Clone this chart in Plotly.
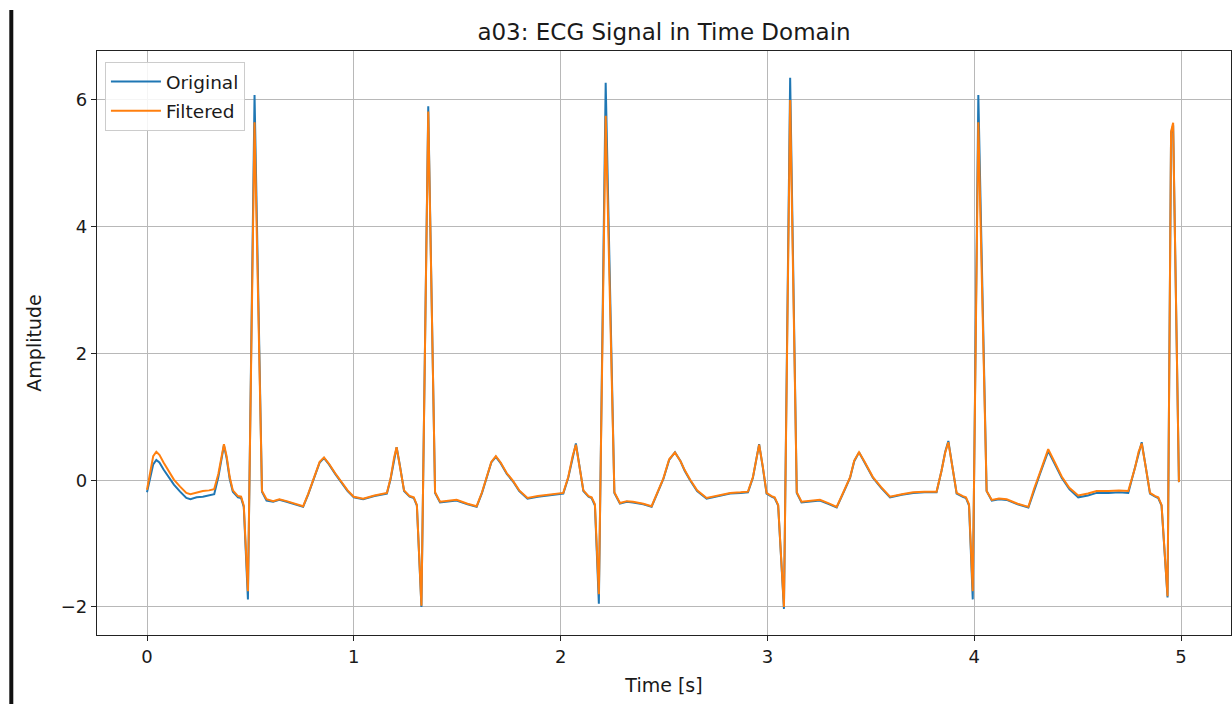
import plotly.graph_objects as go

# ---- data ----
time_s = [
    0.000, 0.015, 0.030, 0.045, 0.060, 0.080, 0.100, 0.130, 0.160, 0.190, 0.210, 0.240, 0.270, 0.300, 0.325,
    0.345, 0.360, 0.372, 0.385, 0.400, 0.415, 0.440, 0.455, 0.468, 0.488, 0.520, 0.556, 0.578, 0.610, 0.640,
    0.675, 0.720, 0.755, 0.780, 0.805, 0.835, 0.856, 0.880, 0.910, 0.940, 0.970, 1.000, 1.045, 1.100, 1.160,
    1.178, 1.195, 1.207, 1.222, 1.243, 1.270, 1.290, 1.305, 1.327, 1.360, 1.393, 1.417, 1.460, 1.497, 1.550,
    1.594, 1.620, 1.642, 1.665, 1.687, 1.710, 1.740, 1.770, 1.800, 1.840, 1.890, 1.933, 1.980, 2.013, 2.037,
    2.058, 2.074, 2.090, 2.110, 2.135, 2.150, 2.166, 2.185, 2.218, 2.260, 2.287, 2.320, 2.350, 2.400, 2.440,
    2.470, 2.497, 2.525, 2.553, 2.580, 2.600, 2.626, 2.660, 2.706, 2.760, 2.820, 2.870, 2.906, 2.930, 2.948,
    2.960, 2.978, 2.996, 3.020, 3.035, 3.052, 3.080, 3.110, 3.142, 3.165, 3.210, 3.254, 3.300, 3.335, 3.370,
    3.400, 3.420, 3.443, 3.470, 3.510, 3.550, 3.593, 3.650, 3.705, 3.760, 3.818, 3.842, 3.860, 3.875, 3.895,
    3.915, 3.945, 3.960, 3.975, 3.993, 4.020, 4.060, 4.085, 4.120, 4.157, 4.210, 4.262, 4.290, 4.318, 4.358,
    4.390, 4.423, 4.460, 4.503, 4.550, 4.592, 4.650, 4.700, 4.745, 4.778, 4.795, 4.810, 4.830, 4.850, 4.875,
    4.890, 4.906, 4.935, 4.952, 4.962, 4.990,
]

original = [
    -0.19, 0.05, 0.25, 0.32, 0.28, 0.17, 0.07, -0.07, -0.18, -0.28, -0.30, -0.27, -0.26, -0.24, -0.22,
    0.05, 0.35, 0.55, 0.35, 0.02, -0.18, -0.27, -0.28, -0.42, -1.88, 6.08, -0.18, -0.32, -0.34, -0.31,
    -0.34, -0.38, -0.42, -0.22, 0.02, 0.28, 0.35, 0.25, 0.10, -0.04, -0.17, -0.27, -0.30, -0.25, -0.21,
    0.02, 0.35, 0.52, 0.25, -0.17, -0.26, -0.28, -0.40, -2.00, 5.90, -0.20, -0.35, -0.33, -0.32, -0.38,
    -0.42, -0.20, 0.02, 0.28, 0.37, 0.27, 0.10, -0.02, -0.17, -0.29, -0.26, -0.24, -0.22, -0.21, 0.04,
    0.38, 0.58, 0.25, -0.17, -0.26, -0.28, -0.40, -1.95, 6.27, -0.20, -0.37, -0.34, -0.35, -0.38, -0.42,
    -0.20, 0.02, 0.32, 0.44, 0.30, 0.15, 0.00, -0.17, -0.29, -0.25, -0.21, -0.20, -0.19, 0.04, 0.38,
    0.57, 0.20, -0.21, -0.26, -0.28, -0.40, -2.03, 6.35, -0.20, -0.35, -0.33, -0.32, -0.38, -0.43, -0.18,
    0.04, 0.30, 0.44, 0.28, 0.04, -0.12, -0.27, -0.23, -0.20, -0.19, -0.19, 0.15, 0.45, 0.62, 0.20,
    -0.21, -0.26, -0.28, -0.40, -1.88, 6.08, -0.17, -0.32, -0.30, -0.31, -0.38, -0.43, -0.15, 0.10, 0.46,
    0.25, 0.04, -0.14, -0.27, -0.24, -0.20, -0.20, -0.19, -0.20, 0.20, 0.45, 0.60, 0.20, -0.21, -0.26,
    -0.28, -0.40, -1.85, 5.48, 5.60, -0.03,
]

filtered = [
    -0.15, 0.15, 0.38, 0.45, 0.40, 0.28, 0.17, 0.01, -0.10, -0.20, -0.22, -0.19, -0.17, -0.16, -0.14,
    0.10, 0.38, 0.57, 0.38, 0.05, -0.16, -0.25, -0.26, -0.40, -1.75, 5.65, -0.17, -0.30, -0.33, -0.30,
    -0.33, -0.37, -0.41, -0.21, 0.03, 0.29, 0.36, 0.26, 0.11, -0.03, -0.16, -0.26, -0.29, -0.24, -0.20,
    0.03, 0.36, 0.52, 0.26, -0.16, -0.25, -0.27, -0.39, -1.98, 5.82, -0.19, -0.34, -0.32, -0.31, -0.37,
    -0.41, -0.19, 0.03, 0.29, 0.38, 0.28, 0.11, -0.01, -0.16, -0.28, -0.25, -0.23, -0.21, -0.20, 0.05,
    0.38, 0.56, 0.25, -0.16, -0.25, -0.27, -0.38, -1.80, 5.75, -0.19, -0.36, -0.33, -0.34, -0.37, -0.41,
    -0.19, 0.03, 0.33, 0.44, 0.30, 0.16, 0.01, -0.16, -0.28, -0.24, -0.20, -0.19, -0.18, 0.05, 0.38,
    0.56, 0.21, -0.20, -0.25, -0.27, -0.39, -2.00, 6.00, -0.19, -0.34, -0.32, -0.31, -0.37, -0.42, -0.17,
    0.05, 0.31, 0.44, 0.29, 0.05, -0.11, -0.26, -0.22, -0.19, -0.18, -0.18, 0.15, 0.44, 0.60, 0.20,
    -0.20, -0.25, -0.27, -0.38, -1.75, 5.65, -0.17, -0.31, -0.29, -0.30, -0.37, -0.42, -0.13, 0.12, 0.49,
    0.28, 0.06, -0.12, -0.24, -0.21, -0.17, -0.17, -0.16, -0.17, 0.20, 0.45, 0.58, 0.20, -0.20, -0.25,
    -0.27, -0.39, -1.83, 5.50, 5.64, -0.03,
]

x_ticks = [0, 1, 2, 3, 4, 5]
y_ticks = [-2, 0, 2, 4, 6]

FONT = "DejaVu Sans"
TEXT = "#1a1a1a"

fig = go.Figure()
fig.add_trace(go.Scatter(x=time_s, y=original, mode="lines", name="Original",
                         legendgroup="orig",
                         line=dict(color="#1f77b4", width=2)))
fig.add_trace(go.Scatter(x=time_s, y=filtered, mode="lines", name="Filtered",
                         legendgroup="filt",
                         line=dict(color="#ff7f0e", width=2)))

axis_common = dict(
    showgrid=True, gridcolor="#b8b8b8", gridwidth=1,
    showline=True, linecolor="#222222", linewidth=1.2, mirror=True,
    ticks="outside", ticklen=5, tickwidth=1.2, tickcolor="#222222",
    zeroline=False,
    tickfont=dict(family=FONT, size=18, color=TEXT),
)

fig.update_layout(
    width=1232, height=704,
    margin=dict(l=97, r=1, t=51, b=69, pad=0),
    paper_bgcolor="white", plot_bgcolor="white",
    font=dict(family=FONT, size=18, color=TEXT),
    title=dict(text="a03: ECG Signal in Time Domain",
               font=dict(family=FONT, size=23, color=TEXT),
               x=0.5, xref="paper", xanchor="center",
               y=1 - 32 / 704, yref="container", yanchor="middle"),
    xaxis=dict(range=[-0.2418, 5.2418], tickvals=x_ticks,
               title=dict(text="Time [s]", font=dict(family=FONT, size=19, color=TEXT), standoff=12),
               **axis_common),
    yaxis=dict(range=[-2.442, 6.773], tickvals=y_ticks,
               title=dict(text="Amplitude", font=dict(family=FONT, size=19, color=TEXT), standoff=14),
               **axis_common),
    legend=dict(x=0.007, y=0.981, xanchor="left", yanchor="top",
                bgcolor="rgba(255,255,255,0.85)", bordercolor="#cccccc", borderwidth=1,
                font=dict(family=FONT, size=18.5, color=TEXT),
                itemwidth=50, tracegroupgap=2),
    showlegend=True,
    shapes=[dict(type="line", xref="paper", yref="paper",
                 x0=(11.3 - 97) / 1134, x1=(11.3 - 97) / 1134,
                 y0=(635 - 10) / 584, y1=(635 - 704) / 584,
                 line=dict(color="#111111", width=4))],
)

fig.write_html("out.html")
